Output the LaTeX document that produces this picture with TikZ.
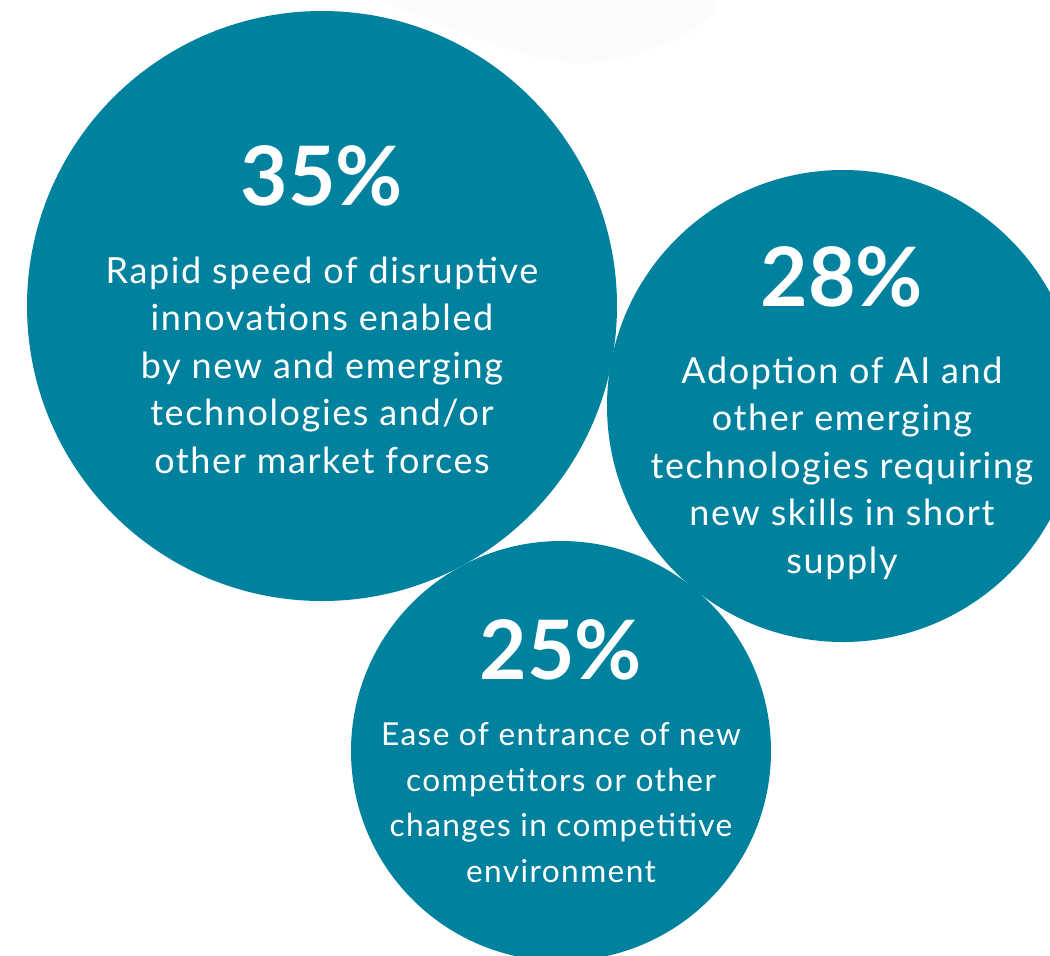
\documentclass[tikz,border=0pt]{standalone}
\usepackage{fontspec}
\setmainfont{Lato}
\newfontfamily\spacedlato[LetterSpace=4.5]{Lato}
\usetikzlibrary{positioning}
\definecolor{bubbleteal}{HTML}{00829E}
\definecolor{ghostgray}{HTML}{FCFCFC}

\begin{document}
\begin{tikzpicture}[x=0.5pt,y=-0.5pt,
    bubble/.style={circle,fill=bubbleteal,inner sep=0pt},
    pct/.style={text=white,font=\fontsize{41}{41}\selectfont\bfseries,anchor=base},
    blurb/.style={text=white,font=\spacedlato\fontsize{18}{23.7}\selectfont,align=center,anchor=base}]

    % fix the frame of the picture
    \useasboundingbox (0,0) rectangle (1050,955);
    \clip (0,0) rectangle (1050,955);

    % faint shape at the top
    \fill[ghostgray] (380,0) .. controls (450,30) and (530,63) .. (580,63) .. controls (640,63) and (700,30) .. (715,12) -- (715,0) -- cycle;

    % draw the three circles
    \node[bubble,minimum size=295pt] (c35) at (322,306) {};
    \node[bubble,minimum size=236pt] (c28) at (843,406) {};
    \node[bubble,minimum size=210pt] (c25) at (561,751) {};

    % percentages
    \node[pct] (p35) at (322,205) {35\%};
    \node[pct] (p28) at (842,306) {28\%};
    \node[pct] (p25) at (561,679) {25\%};

    % texts under the percentages (base = last line)
    \node[blurb] (t35) at (322,473) {Rapid speed of disruptive\\innovations enabled\\by new and emerging\\technologies and/or\\other market forces};
    \node[blurb] (t28) at (842,573) {Adoption of AI and\\other emerging\\technologies requiring\\new skills in short\\supply};
    \node[blurb,font=\spacedlato\fontsize{15.8}{22.75}\selectfont] (t25) at (561,882) {Ease of entrance of new\\competitors or other\\changes in competitive\\environment};

\end{tikzpicture}
\end{document}
